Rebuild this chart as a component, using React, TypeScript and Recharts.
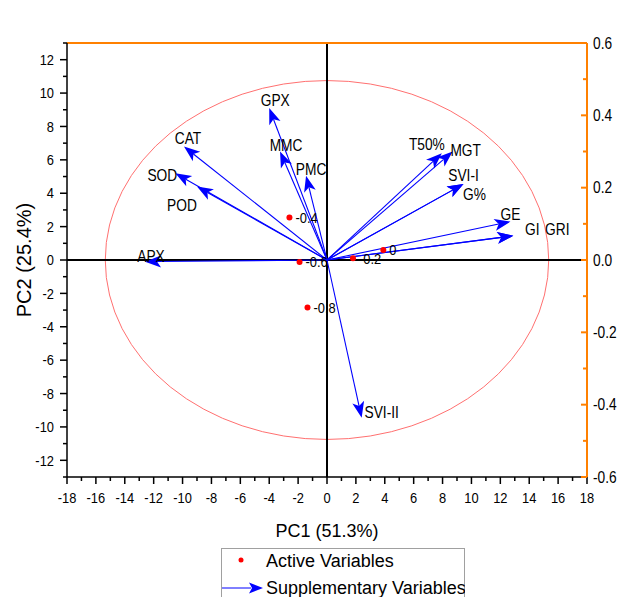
import React from 'react';
import {
  ScatterChart,
  Scatter,
  XAxis,
  YAxis,
  ReferenceLine,
  ReferenceArea,
} from 'recharts';

// Supplementary variables: loadings scaled to PC1 / PC2 score units (arrow tips)
const arrowNames = ['APX', 'CAT', 'SOD', 'POD', 'GPX', 'MMC', 'PMC', 'T50%', 'MGT', 'SVI-I', 'G%', 'GE', 'GI', 'GRI', 'SVI-II'];
const arrowPC1 = [-12.6, -9.9, -10.5, -9.0, -4.0, -3.25, -1.45, 7.95, 8.7, 9.45, 9.45, 12.7, 12.9, 12.9, 2.4];
const arrowPC2 = [-0.1, 6.8, 5.2, 4.4, 9.1, 6.5, 5.05, 6.4, 6.5, 4.55, 4.55, 2.3, 1.45, 1.45, -9.45];

// Active variables (red points) and their labels
const pointNames = ['-0.4', '-0.6', '-0.2', '0', '-0.8'];
const pointPC1 = [-2.6, -1.9, 1.8, 3.9, -1.35];
const pointPC2 = [2.55, -0.12, 0.1, 0.6, -2.85];

// correlation circle radii (score units)
const circleRx = 15.35;
const circleRy = 10.75;

// ticks
const pc1Ticks = [-18, -17, -16, -15, -14, -13, -12, -11, -10, -9, -8, -7, -6, -5, -4, -3, -2, -1, 0, 1, 2, 3, 4, 5, 6, 7, 8, 9, 10, 11, 12, 13, 14, 15, 16, 17, 18];
const pc1Labels = [-18, -16, -14, -12, -10, -8, -6, -4, -2, 0, 2, 4, 6, 8, 10, 12, 14, 16, 18];
const pc2Ticks = [-13, -12, -11, -10, -9, -8, -7, -6, -5, -4, -3, -2, -1, 0, 1, 2, 3, 4, 5, 6, 7, 8, 9, 10, 11, 12, 13];
const pc2Labels = [-12, -10, -8, -6, -4, -2, 0, 2, 4, 6, 8, 10, 12];
const topTicks = [-0.5, -0.4, -0.3, -0.2, -0.1, 0, 0.1, 0.2, 0.3, 0.4, 0.5];
const topLabels = [-0.4, -0.2, 0, 0.2, 0.4];
const rightTicks = [-0.6, -0.5, -0.4, -0.3, -0.2, -0.1, 0, 0.1, 0.2, 0.3, 0.4, 0.5, 0.6];
const rightLabels = [-0.6, -0.4, -0.2, 0, 0.2, 0.4, 0.6];

// label placement relative to each arrow tip (text centre, baseline)
const arrowLabelOffset: [number, number][] = [
  [6, 0], [4, -2], [-13, 8], [-15, 24], [6, -2], [6, -1], [5, -1], [-15, -3],
  [13, 4], [0, -3], [11, 16], [0, -2], [19, -1], [44, -1], [20, 0],
];

const points = pointNames.map((name, i) => ({ name, x: pointPC1[i], y: pointPC2[i] }));
const arrows = arrowNames.map((name, i) => ({ name, x: arrowPC1[i], y: arrowPC2[i], off: arrowLabelOffset[i] }));

const ORANGE = '#ff8000';
const BLUE = '#0000ff';
const SANS = "'Liberation Sans', Arial, sans-serif";

const has = (list: number[], v: number) => list.some((l) => Math.abs(l - v) < 1e-6);
const fmt1 = (v: number) => (Math.abs(v) < 1e-9 ? '0.0' : v.toFixed(1));

// condensed Arial-like text
const Narrow = ({ x, y, anchor = 'start', size = 15, dy, children }: any) => (
  <text
    transform={`translate(${x},${y}) scale(0.86,1)`}
    dy={dy}
    textAnchor={anchor}
    fontSize={size}
    fontFamily={SANS}
    fill="#000"
  >
    {children}
  </text>
);

const BottomTick = ({ x, y, payload }: any) => {
  const major = has(pc1Labels, payload.value);
  return (
    <g>
      <line x1={x} x2={x} y1={y} y2={y + (major ? 7 : 4)} stroke="#000" strokeWidth={1.5} />
      {major && (
        <Narrow x={x} y={y + 21} dy="0.35em" anchor="middle" size={15}>
          {payload.value}
        </Narrow>
      )}
    </g>
  );
};

const LeftTick = ({ x, y, payload }: any) => {
  const major = has(pc2Labels, payload.value);
  return (
    <g>
      <line x1={x} x2={x - (major ? 7 : 4)} y1={y} y2={y} stroke="#000" strokeWidth={1.5} />
      {major && (
        <Narrow x={x - 13} y={y} dy="0.35em" anchor="end" size={15}>
          {payload.value}
        </Narrow>
      )}
    </g>
  );
};

const TopTick = ({ x, y, payload }: any) => {
  const major = has(topLabels, payload.value);
  return (
    <g>
      <line x1={x} x2={x} y1={y} y2={y + (major ? 9 : 5)} stroke={ORANGE} strokeWidth={2} />
      {major && (
        <Narrow x={x} y={y - 13} dy="0.35em" anchor="middle" size={16}>
          {fmt1(payload.value)}
        </Narrow>
      )}
    </g>
  );
};

const RightTick = ({ x, y, payload }: any) => {
  const major = has(rightLabels, payload.value);
  return (
    <g>
      <line x1={x} x2={x - (major ? 6 : 4)} y1={y} y2={y} stroke={ORANGE} strokeWidth={2} />
      {major && (
        <Narrow x={x + 6} y={y} dy="0.35em" anchor="start" size={16}>
          {fmt1(payload.value)}
        </Narrow>
      )}
    </g>
  );
};

const Ellipse = ({ x, y, width, height }: any) => (
  <ellipse
    cx={x + width / 2}
    cy={y + height / 2}
    rx={width / 2}
    ry={height / 2}
    fill="none"
    stroke="#ff7070"
    strokeWidth={1}
  />
);

// arrow from the origin to the variable's tip, with a notched head and its name
const Arrow = ({ x1, y1, x2, y2, name, off }: any) => {
  const a = Math.atan2(y2 - y1, x2 - x1);
  const c = Math.cos(a);
  const s = Math.sin(a);
  const len = 16;
  const half = 6;
  const notch = 4;
  const bx = x2 - len * c;
  const by = y2 - len * s;
  const nx = x2 - (len - notch) * c;
  const ny = y2 - (len - notch) * s;
  const head = `${x2},${y2} ${bx - s * half},${by + c * half} ${nx},${ny} ${bx + s * half},${by - c * half}`;
  return (
    <g>
      <line x1={x1} y1={y1} x2={nx} y2={ny} stroke={BLUE} strokeWidth={1.1} />
      <polygon points={head} fill={BLUE} />
      <Narrow x={x2 + off[0]} y={y2 + off[1]} anchor="middle" size={16}>
        {name}
      </Narrow>
    </g>
  );
};

const PointMark = ({ cx, cy, payload }: any) => (
  <g>
    <circle cx={cx} cy={cy} r={3} fill="#ff0000" />
    <Narrow x={cx + 6} y={cy} dy="0.35em" size={15}>
      {payload.name}
    </Narrow>
  </g>
);

const Legend = () => (
  <svg width={244} height={50} style={{ position: 'absolute', left: 221, top: 548 }}>
    <rect x={0.5} y={0.5} width={243} height={60} fill="#fff" stroke="#a0a0a0" />
    <circle cx={20} cy={12} r={2.5} fill="#ff0000" />
    <text x={45} y={18.5} fontSize={18} fontFamily={SANS} fill="#000">Active Variables</text>
    <line x1={1} x2={30} y1={40} y2={40} stroke={BLUE} strokeWidth={1} />
    <polygon points="42,40 28,34.5 31,40 28,45.5" fill={BLUE} />
    <text x={45} y={45.5} fontSize={18} fontFamily={SANS} fill="#000">Supplementary Variables</text>
  </svg>
);

export default function App() {
  return (
    <div style={{ position: 'absolute', left: 0, top: 0, width: 621, height: 597, overflow: 'hidden', background: '#fff' }}>
      <ScatterChart width={621} height={600} margin={{ top: 13, right: 4, bottom: 53, left: 0 }}>
        <XAxis
          xAxisId={0}
          type="number"
          dataKey="x"
          domain={[-18, 18]}
          ticks={pc1Ticks}
          interval={0}
          height={70}
          tickSize={0}
          tickMargin={0}
          tick={<BottomTick />}
          axisLine={{ stroke: '#000', strokeWidth: 1.5 }}
          allowDataOverflow
          label={{ value: 'PC1 (51.3%)', position: 'insideBottom', offset: 10, fontSize: 18, fontFamily: SANS, fill: '#000' }}
        />
        <XAxis
          xAxisId="top"
          orientation="top"
          type="number"
          domain={[-0.5, 0.5]}
          ticks={topTicks}
          interval={0}
          height={30}
          tickSize={0}
          tickMargin={0}
          tick={<TopTick />}
          axisLine={{ stroke: ORANGE, strokeWidth: 2 }}
          allowDataOverflow
        />
        <YAxis
          yAxisId={0}
          type="number"
          dataKey="y"
          domain={[-13, 13]}
          ticks={pc2Ticks}
          interval={0}
          width={67}
          tickSize={0}
          tickMargin={0}
          tick={<LeftTick />}
          axisLine={{ stroke: '#000', strokeWidth: 1.5 }}
          allowDataOverflow
          label={{
            value: 'PC2 (25.4%)',
            angle: -90,
            position: 'insideLeft',
            offset: 24,
            fontSize: 20,
            fontFamily: SANS,
            fill: '#000',
            style: { textAnchor: 'middle' },
          }}
        />
        <YAxis
          yAxisId="right"
          orientation="right"
          type="number"
          domain={[-0.6, 0.6]}
          ticks={rightTicks}
          interval={0}
          width={30}
          tickSize={0}
          tickMargin={0}
          tick={<RightTick />}
          axisLine={{ stroke: ORANGE, strokeWidth: 2 }}
          allowDataOverflow
        />

        <ReferenceArea x1={-circleRx} x2={circleRx} y1={-circleRy} y2={circleRy} shape={<Ellipse />} />
        <ReferenceLine x={0} stroke="#000" strokeWidth={2} />
        <ReferenceLine y={0} stroke="#000" strokeWidth={2} />

        {arrows.map((a) => (
          <ReferenceLine
            key={a.name}
            segment={[{ x: 0, y: 0 }, { x: a.x, y: a.y }]}
            shape={(p: any) => <Arrow {...p} name={a.name} off={a.off} />}
          />
        ))}

        <Scatter data={points} isAnimationActive={false} shape={<PointMark />} />
      </ScatterChart>
      <Legend />
    </div>
  );
}
